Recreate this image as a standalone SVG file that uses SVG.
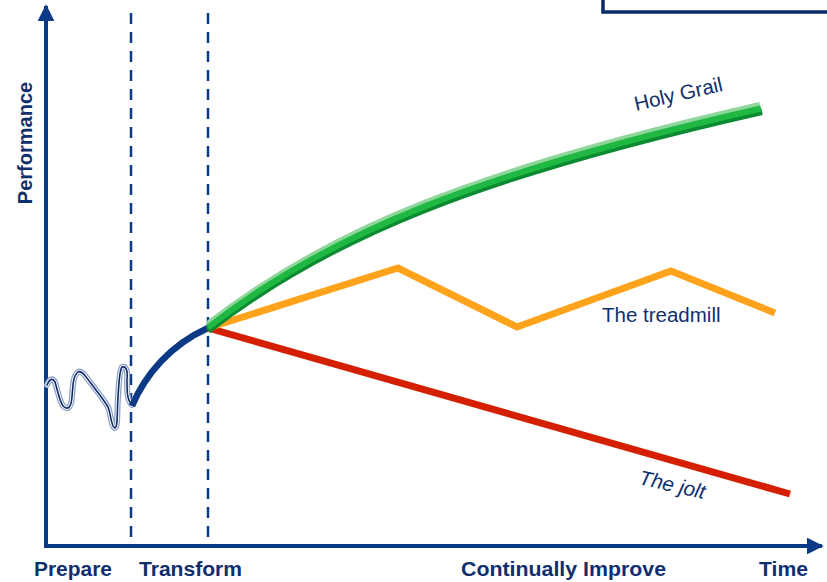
<svg xmlns="http://www.w3.org/2000/svg" width="827" height="582" viewBox="0 0 827 582">
  <style>
    .axis { stroke: #0a3a85; stroke-width: 4; fill: none; }
    .phase { stroke: #0a3a85; stroke-width: 2.5; stroke-dasharray: 11 8; fill: none; }
    .lbl { font-family: "Liberation Sans", Arial, sans-serif; font-weight: bold; font-size: 20px; fill: #102f6e; }
    .curve-lbl { font-family: "Liberation Sans", Arial, sans-serif; font-size: 20.5px; fill: #102f6e; }
    .line { fill: none; stroke-width: 7; stroke-linejoin: miter; stroke-linecap: butt; }
  </style>
  <defs>
    <marker id="arrow" viewBox="0 0 10 10" refX="9" refY="5" markerWidth="4.2" markerHeight="4.2" orient="auto" markerUnits="strokeWidth">
      <path d="M0,0 L10,5 L0,10 Z" fill="#0a3a85"/>
    </marker>
  </defs>
  <rect width="827" height="582" fill="#ffffff"/>

  <!-- legend box, cut by the top edge -->
  <rect x="603" y="-10" width="240" height="22" fill="#ffffff" stroke="#0a2a6b" stroke-width="3.5"/>

  <!-- axes -->
  <g id="axes">
    <path class="axis" d="M46,546 L46,6" marker-end="url(#arrow)"/>
    <path class="axis" d="M44,546 L822,546" marker-end="url(#arrow)"/>
  </g>

  <!-- phase separators -->
  <g id="phases">
    <line class="phase" x1="131" y1="13" x2="131" y2="545"/>
    <line class="phase" x1="208" y1="13" x2="208" y2="545"/>
  </g>

  <g id="connectors">
    <!-- preparation squiggle, drawn with faded echoes -->
    <g id="squiggle" fill="none" stroke-linejoin="round" stroke-linecap="round">
      <path d="M47,385 C49,380 52,377 55,382 C57,388 59,400 63,406 C67,410 71,409 72,397 C73,385 73,376 78,372 C82,370 86,377 90,382 C96,390 104,400 108,407 C111,414 111,427 115,428 C118,427 117,410 118,397 C119,385 119,371 122,367 C126,366 128,370 127,380 C127,392 127,400 132,405" stroke="#8fa3c8" stroke-width="6"/>
      <path d="M47,385 C49,380 52,377 55,382 C57,388 59,400 63,406 C67,410 71,409 72,397 C73,385 73,376 78,372 C82,370 86,377 90,382 C96,390 104,400 108,407 C111,414 111,427 115,428 C118,427 117,410 118,397 C119,385 119,371 122,367 C126,366 128,370 127,380 C127,392 127,400 132,405" stroke="#ffffff" stroke-width="3.4"/>
      <path d="M47,385 C49,380 52,377 55,382 C57,388 59,400 63,406 C67,410 71,409 72,397 C73,385 73,376 78,372 C82,370 86,377 90,382 C96,390 104,400 108,407 C111,414 111,427 115,428 C118,427 117,410 118,397 C119,385 119,371 122,367 C126,366 128,370 127,380 C127,392 127,400 132,405" stroke="#0d2a66" stroke-width="1.6"/>
    </g>

    <!-- transform curve -->
    <path id="transform-curve" d="M132,406 C145,375 170,345 208,328" fill="none" stroke="#0a3a85" stroke-width="6.5"/>

    <!-- the jolt -->
    <path id="jolt-line" class="line" d="M208,328 L790,494" stroke="#d41f00"/>

    <!-- the treadmill -->
    <path id="treadmill-line" class="line" d="M208,328 L398,268 L517,327 L671,271 L775,313" stroke="#ffa31d"/>

    <!-- holy grail -->
    <g id="grail-line" fill="none" stroke-linecap="butt">
      <path d="M208,324.5 C330,229.5 480,169.5 760,105.5" stroke="#8ed69a" stroke-width="7"/>
      <path d="M208,330.5 C330,235.5 480,175.5 762,111.5" stroke="#0b8a32" stroke-width="7"/>
      <path d="M208,327.5 C330,232.5 480,172.5 761,108.5" stroke="#1fb843" stroke-width="6"/>
    </g>
  </g>

  <!-- curve labels -->
  <text class="curve-lbl" x="0" y="0" transform="translate(636,111) rotate(-13)">Holy Grail</text>
  <text class="curve-lbl" x="602" y="322">The treadmill</text>
  <text class="curve-lbl" x="0" y="0" font-style="italic" transform="translate(638,484) rotate(13)">The jolt</text>

  <!-- axis labels -->
  <text class="lbl" x="0" y="0" font-size="18.5" transform="translate(32,143) rotate(-90)" text-anchor="middle">Performance</text>
  <text class="lbl" x="34" y="576" textLength="78" lengthAdjust="spacingAndGlyphs">Prepare</text>
  <text class="lbl" x="139" y="576" textLength="103" lengthAdjust="spacingAndGlyphs">Transform</text>
  <text class="lbl" x="461" y="576" textLength="205" lengthAdjust="spacingAndGlyphs">Continually Improve</text>
  <text class="lbl" x="759" y="576" textLength="49" lengthAdjust="spacingAndGlyphs">Time</text>
</svg>
